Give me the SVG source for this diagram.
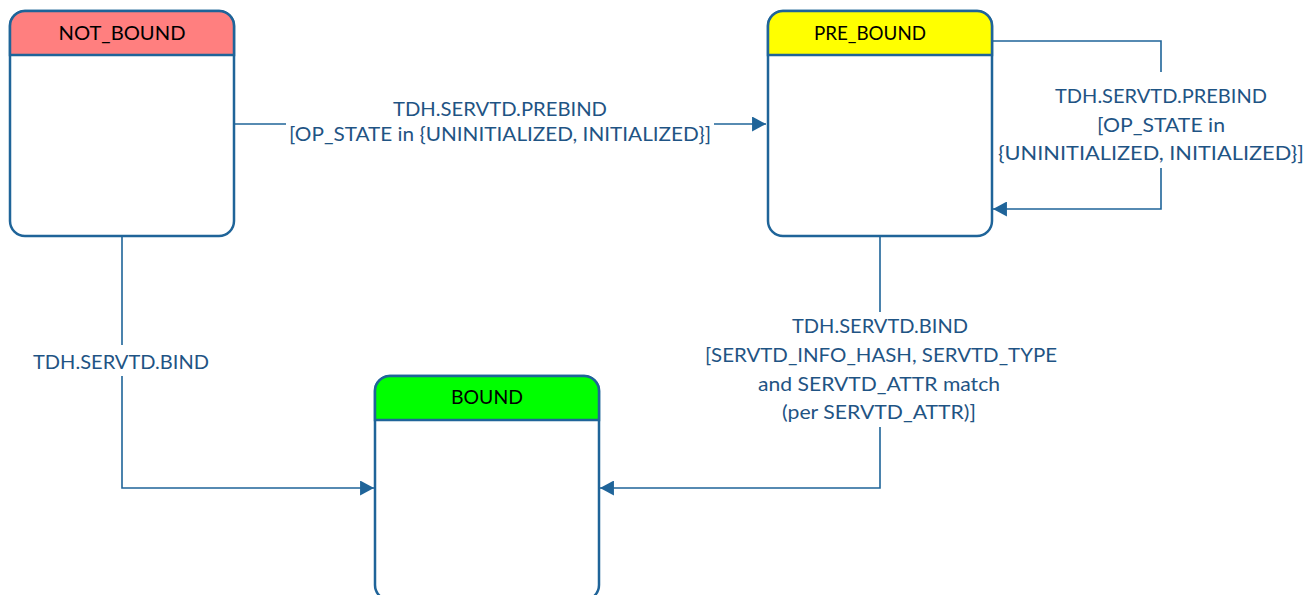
<svg xmlns="http://www.w3.org/2000/svg" width="1315" height="595" viewBox="0 0 1315 595">
<style>
.box{fill:#ffffff;stroke:#1F6499;stroke-width:2.5}
.name{font-family:Lato,"Liberation Sans",sans-serif;font-size:20px;fill:#000000;text-anchor:middle}
.conn{fill:none;stroke:#1F6499;stroke-width:1.6}
.lbl{font-family:Lato,"Liberation Sans",sans-serif;font-size:20px;fill:#1F5484;text-anchor:middle}
.bg{fill:#ffffff}
</style>
<defs>
<marker id="arr" markerUnits="userSpaceOnUse" markerWidth="14" markerHeight="15" viewBox="0 0 13 14" refX="13" refY="7" orient="auto">
<path d="M0,0 L13,7 L0,14 Z" fill="#1F6499"/>
</marker>
</defs>
<rect width="1315" height="595" fill="#ffffff"/>

<g id="connectors">
<path class="conn" d="M234,124 H766" marker-end="url(#arr)"/>
<path class="conn" d="M992,41 H1161 V209 H993" marker-end="url(#arr)"/>
<path class="conn" d="M122,236 V488 H374" marker-end="url(#arr)"/>
<path class="conn" d="M880,236 V488 H600" marker-end="url(#arr)"/>
<rect class="bg" x="286" y="96" width="428" height="50"/>
<rect class="bg" x="995" y="72" width="312" height="96"/>
<rect class="bg" x="30" y="345" width="182" height="31"/>
<rect class="bg" x="702" y="312" width="358" height="115"/>
<text class="lbl" x="500" y="116" textLength="214" lengthAdjust="spacingAndGlyphs">TDH.SERVTD.PREBIND</text>
<text class="lbl" x="500" y="141" textLength="422" lengthAdjust="spacingAndGlyphs">[OP_STATE in {UNINITIALIZED, INITIALIZED}]</text>
<text class="lbl" x="1161" y="103" textLength="212" lengthAdjust="spacingAndGlyphs">TDH.SERVTD.PREBIND</text>
<text class="lbl" x="1161" y="132" textLength="128" lengthAdjust="spacingAndGlyphs">[OP_STATE in</text>
<text class="lbl" x="1151" y="160" textLength="306" lengthAdjust="spacingAndGlyphs">{UNINITIALIZED, INITIALIZED}]</text>
<text class="lbl" x="121" y="369" textLength="176" lengthAdjust="spacingAndGlyphs">TDH.SERVTD.BIND</text>
<text class="lbl" x="880" y="333" textLength="176" lengthAdjust="spacingAndGlyphs">TDH.SERVTD.BIND</text>
<text class="lbl" x="881" y="362" textLength="352" lengthAdjust="spacingAndGlyphs">[SERVTD_INFO_HASH, SERVTD_TYPE</text>
<text class="lbl" x="879" y="391" textLength="242" lengthAdjust="spacingAndGlyphs">and SERVTD_ATTR match</text>
<text class="lbl" x="879" y="419" textLength="194" lengthAdjust="spacingAndGlyphs">(per SERVTD_ATTR)]</text>
</g>

<g id="NOT_BOUND">
<rect class="box" x="10" y="11" width="224" height="225" rx="15" ry="15"/>
<path d="M10,55 V26 A15,15 0 0 1 25,11 H219 A15,15 0 0 1 234,26 V55 Z" fill="#FF7F7F" stroke="#1F6499" stroke-width="2.5"/>
<text class="name" x="122" y="40" textLength="127" lengthAdjust="spacingAndGlyphs">NOT_BOUND</text>
</g>

<g id="PRE_BOUND">
<rect class="box" x="768" y="11" width="224" height="225" rx="15" ry="15"/>
<path d="M768,55 V26 A15,15 0 0 1 783,11 H977 A15,15 0 0 1 992,26 V55 Z" fill="#FFFF00" stroke="#1F6499" stroke-width="2.5"/>
<text class="name" x="870" y="40" textLength="112" lengthAdjust="spacingAndGlyphs">PRE_BOUND</text>
</g>

<g id="BOUND">
<rect class="box" x="375" y="376" width="224" height="224" rx="15" ry="15"/>
<path d="M375,420 V391 A15,15 0 0 1 390,376 H584 A15,15 0 0 1 599,391 V420 Z" fill="#00FF00" stroke="#1F6499" stroke-width="2.5"/>
<text class="name" x="487" y="404" textLength="72" lengthAdjust="spacingAndGlyphs">BOUND</text>
</g>
</svg>
